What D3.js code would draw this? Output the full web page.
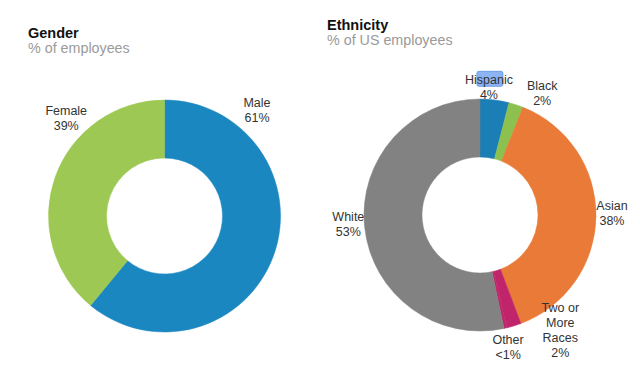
<!DOCTYPE html>
<html>
<head>
<meta charset="utf-8">
<script src="https://cdn.jsdelivr.net/npm/d3@7"></script>
<style>
  body { margin: 0; background: #fff; }
  text { font-family: "Liberation Sans", Arial, sans-serif; }
</style>
</head>
<body>
<script>
// gender data
var genderCats = ["Male", "Female"];
var genderVals = [61, 39];
var genderLabels = [["Male", "61%"], ["Female", "39%"]];
var genderColors = ["#1a87c0", "#9cc853"];

// ethnicity data
var ethCats = ["Hispanic", "Black", "Asian", "Two or More Races", "Other", "White"];
var ethVals = [4, 2, 38, 2, 0.4, 53];
var ethLabels = [["Hispanic", "4%"], ["Black", "2%"], ["Asian", "38%"],
    ["Two or", "More", "Races", "2%"], ["Other", "<1%"], ["White", "53%"]];
var ethColors = ["#1b7fb6", "#8dc14f", "#e97a38", "#c0256b", "#c0256b", "#828282"];

// where the labels sit: angle in degrees, distance from center
var genderLabelPos = [[41, 141], [315, 139]];
var ethLabelPos = [[4, 128], [27, 137], [89, 132], [145, 140], [168, 135], [266, 132]];

var width = 640;
var height = 375;

var svg = d3.select("body")
    .append("svg")
    .attr("width", width)
    .attr("height", height);

function donut(cx, cy, cats, vals, labels, colors, labelPos, title, subtitle, tx, ty) {
    var g = svg.append("g")
        .attr("transform", `translate(${cx}, ${cy})`);

    var pie = d3.pie().sort(null).value(d => d.v);
    var arc = d3.arc().innerRadius(58).outerRadius(116);

    var data = cats.map((c, i) => ({c: c, v: vals[i], i: i}));

    g.selectAll("path")
        .data(pie(data))
        .enter()
        .append("path")
        .attr("d", arc)
        .attr("fill", d => colors[d.data.i])
        .attr("stroke", d => colors[d.data.i])
        .attr("stroke-width", 0.5);

    var lh = 15;
    data.forEach((d, i) => {
        var a = labelPos[i][0] * Math.PI / 180;
        var r = labelPos[i][1];
        var x = Math.sin(a) * r;
        var y = -Math.cos(a) * r;
        var lines = labels[i];
        var y0 = y - (lines.length - 1) * lh / 2 + 4.5;

        if (d.c === "Hispanic") {
            // selection highlight seen in the source image
            g.append("rect")
                .attr("x", x - 12)
                .attr("y", y0 - 13)
                .attr("width", 26)
                .attr("height", 15)
                .attr("rx", 2)
                .attr("fill", "#8db4f2")
                .attr("stroke", "#5b8fe6")
                .attr("stroke-width", 0.8);
        }

        var t = g.append("text")
            .attr("text-anchor", "middle")
            .attr("font-size", "12.5px")
            .attr("fill", "#333");
        lines.forEach((s, j) => {
            t.append("tspan")
                .attr("x", x)
                .attr("y", y0 + j * lh)
                .text(s);
        });
    });

    svg.append("text")
        .attr("x", tx)
        .attr("y", ty)
        .attr("font-size", "14.5px")
        .attr("font-weight", "bold")
        .attr("fill", "#111")
        .text(title);

    svg.append("text")
        .attr("x", tx)
        .attr("y", ty + 15)
        .attr("font-size", "14.3px")
        .attr("fill", "#9a9a9a")
        .text(subtitle);
}

donut(164.5, 216, genderCats, genderVals, genderLabels, genderColors, genderLabelPos,
    "Gender", "% of employees", 28, 38);
donut(480, 215, ethCats, ethVals, ethLabels, ethColors, ethLabelPos,
    "Ethnicity", "% of US employees", 327, 29.5);
</script>
</body>
</html>
